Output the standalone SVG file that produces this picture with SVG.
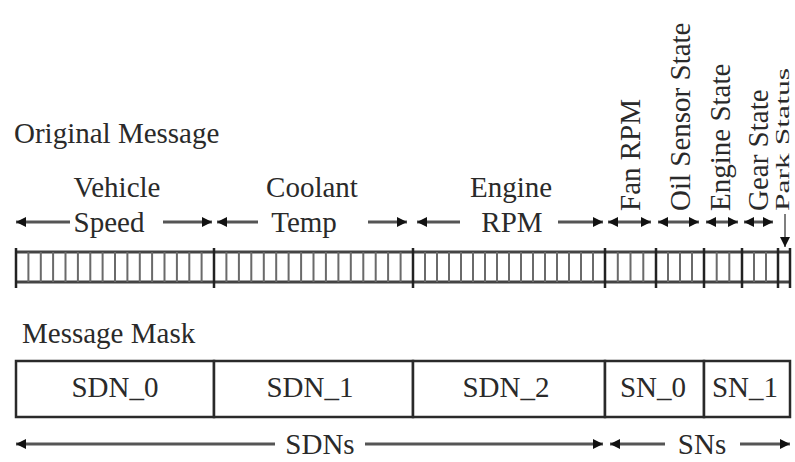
<svg xmlns="http://www.w3.org/2000/svg" width="795" height="462" viewBox="0 0 795 462">
<defs>
<style>
text{font-family:"Liberation Serif","Times New Roman",serif;font-size:29px;fill:#2a2a2a}
.c{text-anchor:middle}
.v{text-anchor:start}
.ln{stroke:#555;stroke-width:3;fill:none}
.tick{stroke:#6a6a6a;stroke-width:2;fill:none}
.rail{stroke:#444;stroke-width:3;fill:none}
.bd{stroke:#222;stroke-width:2.5;fill:none}
.box{fill:#fff;stroke:#2a2a2a;stroke-width:2.5}
</style>
<marker id="ah" viewBox="0 0 10 10" refX="10" refY="5" markerWidth="11" markerHeight="10" markerUnits="userSpaceOnUse" orient="auto-start-reverse">
<path d="M0,0 L10,5 L0,10 z" fill="#111"/>
</marker>
</defs>
<rect width="795" height="462" fill="#fff"/>

<g id="original-message-title"><text x="14" y="143">Original Message</text></g>

<g id="field-labels">
<text class="c" x="117" y="197">Vehicle</text>
<text class="c" x="109" y="232">Speed</text>
<text class="c" x="312" y="197">Coolant</text>
<text class="c" x="304" y="232">Temp</text>
<text class="c" x="511" y="197">Engine</text>
<text class="c" x="512" y="232">RPM</text>
<text class="v" transform="translate(640,211) rotate(-90)">Fan RPM</text>
<text class="v" transform="translate(690,211) rotate(-90)">Oil Sensor State</text>
<text class="v" transform="translate(730,211) rotate(-90)">Engine State</text>
<text class="v" transform="translate(768,211) rotate(-90)">Gear State</text>
<text class="v" transform="translate(789,211) rotate(-90)" style="font-size:19px" textLength="143" lengthAdjust="spacingAndGlyphs">Park Status</text>
</g>

<g id="bit-bar">
<path class="rail" d="M16,252 H790 M16,282 H790"/>
<path class="tick" d="M28.4,252V282M40.8,252V282M53.1,252V282M65.5,252V282M77.9,252V282M90.3,252V282M102.6,252V282M115,252V282M127.4,252V282M139.8,252V282M152.1,252V282M164.5,252V282M176.9,252V282M189.3,252V282M201.6,252V282M226.4,252V282M238.9,252V282M251.3,252V282M263.8,252V282M276.2,252V282M288.6,252V282M301.1,252V282M313.5,252V282M325.9,252V282M338.4,252V282M350.8,252V282M363.3,252V282M375.7,252V282M388.1,252V282M400.6,252V282M425,252V282M437,252V282M449,252V282M461,252V282M473,252V282M485,252V282M497,252V282M509,252V282M521,252V282M533,252V282M545,252V282M557,252V282M569,252V282M581,252V282M593,252V282M617.8,252V282M630.5,252V282M643.3,252V282M668,252V282M680,252V282M692,252V282M716.7,252V282M729.3,252V282M754,252V282M766,252V282"/>
<path class="bd" d="M16,248V288M214,248V288M413,248V288M605,248V288M656,248V288M704,248V288M742,248V288M778,248V288M790,248V288"/>
</g>

<g id="message-mask-title"><text x="22" y="343">Message Mask</text></g>

<g id="sdn0"><rect class="box" x="16" y="361" width="198" height="56"/><text class="c" x="115" y="397">SDN_0</text></g>
<g id="sdn1"><rect class="box" x="214" y="361" width="199" height="56"/><text class="c" x="310" y="397">SDN_1</text></g>
<g id="sdn2"><rect class="box" x="413" y="361" width="192" height="56"/><text class="c" x="506" y="397">SDN_2</text></g>
<g id="sn0"><rect class="box" x="605" y="361" width="99" height="56"/><text class="c" x="653" y="397">SN_0</text></g>
<g id="sn1"><rect class="box" x="704" y="361" width="86" height="56"/><text class="c" x="745" y="397">SN_1</text></g>

<g id="group-labels">
<text class="c" x="320" y="454">SDNs</text>
<text class="c" x="702" y="454">SNs</text>
</g>

<g id="connectors">
<line class="ln" x1="70" y1="222" x2="16" y2="222" marker-end="url(#ah)"/>
<line class="ln" x1="163" y1="222" x2="212" y2="222" marker-end="url(#ah)"/>
<line class="ln" x1="258" y1="222" x2="217" y2="222" marker-end="url(#ah)"/>
<line class="ln" x1="368" y1="222" x2="407" y2="222" marker-end="url(#ah)"/>
<line class="ln" x1="460" y1="222" x2="417" y2="222" marker-end="url(#ah)"/>
<line class="ln" x1="558" y1="222" x2="603" y2="222" marker-end="url(#ah)"/>
<line class="ln" x1="608" y1="222" x2="651" y2="222" marker-start="url(#ah)" marker-end="url(#ah)"/>
<line class="ln" x1="658" y1="222" x2="699" y2="222" marker-start="url(#ah)" marker-end="url(#ah)"/>
<line class="ln" x1="706" y1="222" x2="738" y2="222" marker-start="url(#ah)" marker-end="url(#ah)"/>
<line class="ln" x1="744" y1="222" x2="773" y2="222" marker-start="url(#ah)" marker-end="url(#ah)"/>
<line class="ln" x1="785" y1="214" x2="785" y2="247" marker-end="url(#ah)" style="stroke-width:1.5"/>
<line class="ln" x1="275" y1="444" x2="16" y2="444" marker-end="url(#ah)"/>
<line class="ln" x1="365" y1="444" x2="603" y2="444" marker-end="url(#ah)"/>
<line class="ln" x1="665" y1="444" x2="610" y2="444" marker-end="url(#ah)"/>
<line class="ln" x1="740" y1="444" x2="790" y2="444" marker-end="url(#ah)"/>
</g>
</svg>
